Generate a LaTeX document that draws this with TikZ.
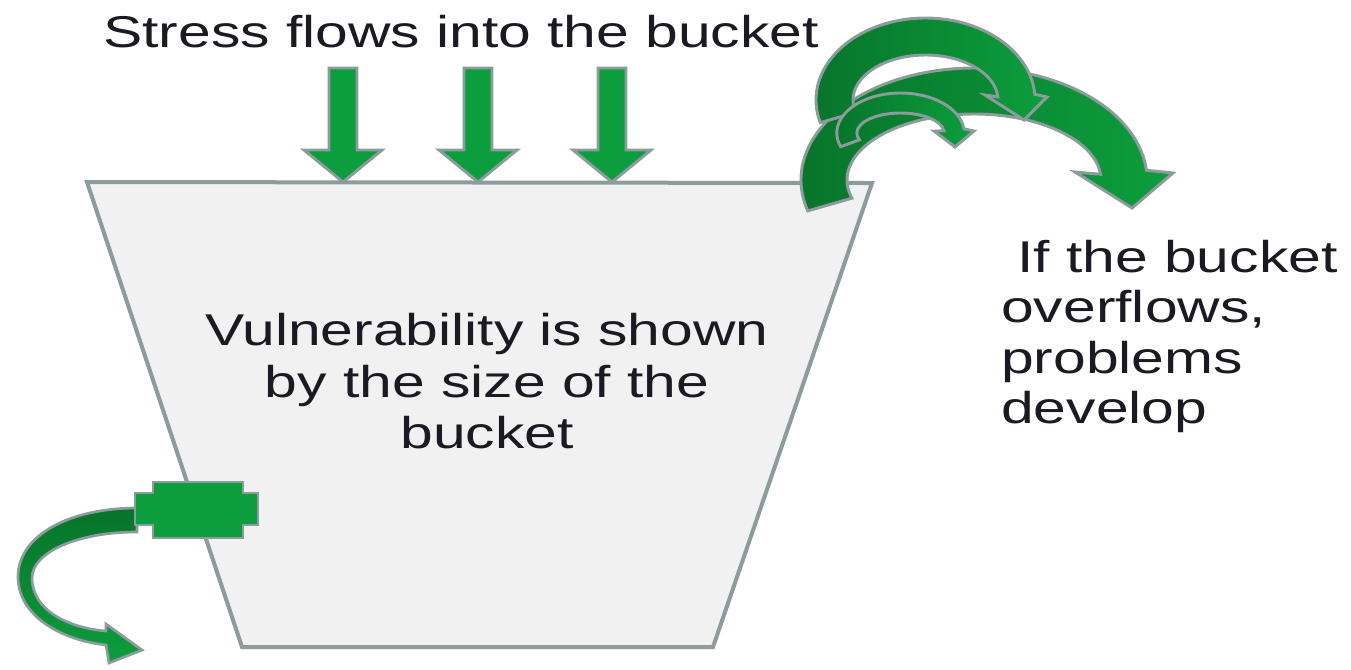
\documentclass[tikz,border=0pt]{standalone}
\usepackage{fontspec}
\setmainfont[FakeStretch=1.32]{Liberation Sans}
\usetikzlibrary{calc}
\definecolor{grn}{HTML}{0C9E3C}
\definecolor{dgrn}{HTML}{07732A}
\definecolor{edge}{HTML}{8C9C9C}
\definecolor{bfill}{HTML}{F1F1F1}
\definecolor{ink}{HTML}{1A1A22}
\begin{document}
\begin{tikzpicture}[x=0.75pt,y=-0.75pt,
  bucketstyle/.style={fill=bfill, draw=edge, line width=3pt, line join=miter},
  arrowshape/.style={draw=edge, line width=2.2pt, line join=miter, fill=grn},
  shadedarrow/.style={draw=edge, line width=2.2pt, line join=miter, left color=dgrn, right color=grn},
  tapcurve/.style={draw=edge, line width=2pt, line join=miter, top color=dgrn, bottom color=grn},
  txt/.style={font=\fontsize{33.4}{38.3}\selectfont, inner sep=0pt, text=ink}]
\useasboundingbox (0,0) rectangle (1351,669);
\fill[white] (0,0) rectangle (1351,669);

% bucket
\path[bucketstyle] (87,182) coordinate (tl) -- (872,183) coordinate (tr) -- (713,647) coordinate (br) -- (242,647) coordinate (bl) -- cycle;

% stress arrows
\foreach \cx in {343,478,612} {
  \path[arrowshape] (\cx-14,68) -- (\cx+14,68) -- (\cx+14,150) -- (\cx+39,150) -- (\cx,182) -- (\cx-39,150) -- (\cx-14,150) -- cycle;
}

% overflow arrows
\path[shadedarrow] ($(974,180)+(164:173 and 112)$) arc[start angle=164, end angle=355, x radius=173, y radius=112]
  -- (1173,173) -- (1132,208) -- (1075,172)
  -- ($(974,180)+(355:127 and 66)$) arc[start angle=355, end angle=164, x radius=127, y radius=66] -- cycle;
\path[shadedarrow] ($(925.5,100)+(164:109.5 and 82)$) arc[start angle=164, end angle=356, x radius=109.5, y radius=82]
  -- (1047,97) -- (1024,120) -- (985,95)
  -- ($(925.5,100)+(356:72.5 and 45)$) arc[start angle=356, end angle=164, x radius=72.5, y radius=45] -- cycle;
\path[shadedarrow] ($(900.5,133)+(160:63.7 and 40)$) arc[start angle=160, end angle=354, x radius=63.7, y radius=40]
  -- (974,131) -- (955,147) -- (934,131)
  -- ($(900.5,133)+(354:43.7 and 20)$) arc[start angle=354, end angle=160, x radius=43.7, y radius=20] -- cycle;

% tap outflow
\path[tapcurve] (137,508) .. controls (70,508) and (18,535) .. (18,577)
  .. controls (18,615) and (60,640) .. (106,645) -- (109,663) -- (142,650) -- (106,624) -- (106,631)
  .. controls (68,628) and (32,610) .. (32,578) .. controls (32,552) and (78,532) .. (137,532) -- cycle;
% tap
\path[arrowshape] (153,482) -- (243,482) -- (243,493) -- (258,493) -- (258,525) -- (243,525) -- (243,538)
  -- (153,538) -- (153,525) -- (135,525) -- (135,493) -- (153,493) -- cycle;

% texts
\node[txt, anchor=base] (title) at (461,47) {Stress flows into the bucket};
\node[txt, anchor=base] (body1) at (487,345) {Vulnerability is shown};
\node[txt, anchor=base] (body2) at (487,397) {by the size of the};
\node[txt, anchor=base] (body3) at (487,448) {bucket};
\node[txt, anchor=base west] (over1) at (1017,272) {If the bucket};
\node[txt, anchor=base west] (over2) at (1001,322) {overflows,};
\node[txt, anchor=base west] (over3) at (1001,373) {problems};
\node[txt, anchor=base west] (over4) at (1001,423) {develop};
\end{tikzpicture}
\end{document}
